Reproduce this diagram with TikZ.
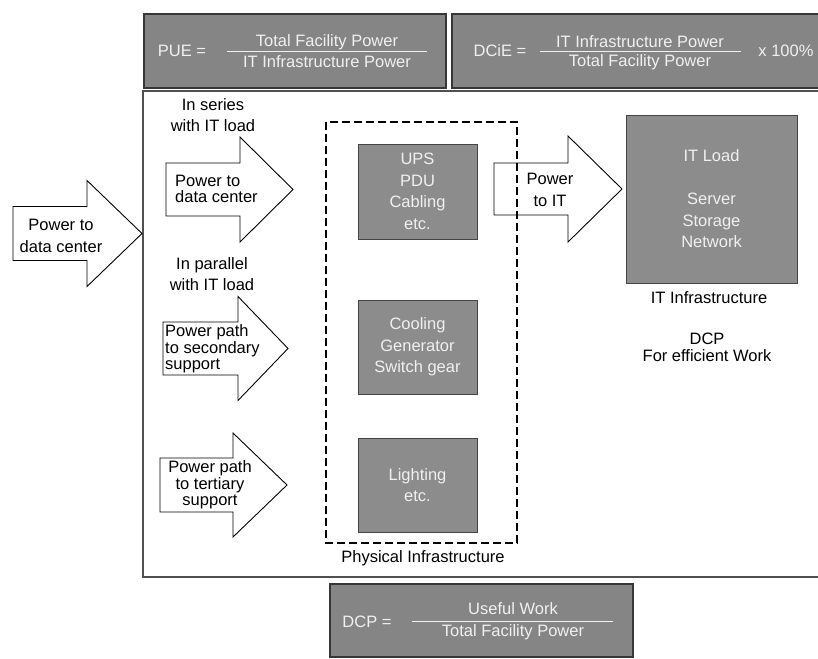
\documentclass[tikz,border=0pt]{standalone}
\usepackage{fontspec}
\setmainfont{Liberation Sans}
\definecolor{boxgray}{HTML}{8C8C8C}
\definecolor{boxedge}{HTML}{454545}
\definecolor{boxtext}{HTML}{F0F0F0}
\definecolor{frameline}{HTML}{505050}
\newcommand\blockarrow[6]{% x1, x2, x3, yc, half shaft, half head
  \draw[arrowshape] (#1,#4-#5) -- (#2,#4-#5) -- (#2,#4-#6) -- (#3,#4) -- (#2,#4+#6) -- (#2,#4+#5) -- (#1,#4+#5) -- cycle;}
\tikzset{
  arrowshape/.style={draw=black, fill=white, line width=0.9pt, line join=miter},
  txt/.style={font=\fontsize{16.5}{21.5}\selectfont, inner sep=0pt, align=center},
  tighttxt/.style={font=\fontsize{16.5}{16.5}\selectfont, inner sep=0pt},
  graybox/.style={draw=boxedge, fill=boxgray, line width=1pt, inner sep=0pt, text=boxtext},
  formbox/.style={draw=boxedge!80!black, fill=boxgray!95!black, line width=1.4pt},
  wtxt/.style={txt, text=boxtext},
  fracline/.style={draw=boxtext, line width=0.9pt},
  mainframe/.style={draw=frameline, line width=1.3pt},
  physbox/.style={draw=black, line width=2.2pt, dash pattern=on 8pt off 4pt}
}
\begin{document}
\begin{tikzpicture}[x=1pt,y=-1pt]
\useasboundingbox (0,0) rectangle (818,658);
\clip (0,0) rectangle (818,658);
\fill[white] (0,0) rectangle (818,658);

% formula boxes on top
\path[formbox] (144,14) rectangle (446,88);
\path[formbox] (452,14) rectangle (824,88);
\node[wtxt] (pue) at (182,51) {PUE =};
\node[wtxt] (puenum) at (327,42) {Total Facility Power};
\node[wtxt] (pueden) at (327,62) {IT Infrastructure Power};
\coordinate (puel) at (227,51);
\coordinate (puer) at (427,51);
\draw[fracline] (puel) -- (puer);
\node[wtxt] (dcie) at (500,51) {DCiE =};
\node[wtxt] (dcienum) at (640,42) {IT Infrastructure Power};
\node[wtxt] (dcieden) at (640,62) {Total Facility Power};
\coordinate (dciel) at (540,51);
\coordinate (dcier) at (741,51);
\draw[fracline] (dciel) -- (dcier);
\node[wtxt] (hundred) at (786,51) {x 100\%};

% main frame
\path[mainframe] (143,91) rectangle (824,577);

% left arrow
\blockarrow{13}{87}{142}{233.5}{27}{53}
\node[txt] (pdc) at (61,236) {Power to\\data center};

% series
\node[txt] (series) at (213,115) {In series\\with IT load};
\blockarrow{166}{240}{293}{189.5}{26.5}{52.5}
\node[tighttxt, align=left, anchor=west] (pdc2) at (175,189) {Power to\\data center};

% parallel
\node[txt] (parallel) at (212,274) {In parallel\\with IT load};
\blockarrow{163}{238}{288}{348.5}{26.5}{52}
\node[tighttxt, align=left, anchor=west] (sec) at (165,349) {Power path\\to secondary\\support};

% tertiary
\blockarrow{160}{233}{287}{485}{27}{52}
\node[tighttxt, align=center] (ter) at (210,485) {Power path\\to tertiary\\support};

% power to IT arrow
\blockarrow{494}{568}{622}{189}{26}{53}
\node[txt] (pit) at (550,190) {Power\\to IT};

% physical infrastructure dashed frame
\draw[physbox] (326,122) rectangle (517,543);
\node[txt] (phys) at (423,558) {Physical Infrastructure};

% gray boxes
\node[graybox, minimum width=119pt, minimum height=95pt] (ups) at (417.5,191.5) {};
\node[wtxt] (upstxt) at (ups.center) {UPS\\PDU\\Cabling\\etc.};
\node[graybox, minimum width=119pt, minimum height=94pt] (cool) at (417.5,347) {};
\node[wtxt] (cooltxt) at (cool.center) {Cooling\\Generator\\Switch gear};
\node[graybox, minimum width=119pt, minimum height=94pt] (light) at (417.5,485) {};
\node[wtxt] (lighttxt) at (light.center) {Lighting\\etc.};

% IT load box
\node[graybox, minimum width=171pt, minimum height=168pt] (itload) at (711.5,199) {};
\node[wtxt] (ittxt) at (itload.center) {IT Load\\[21.5pt]Server\\Storage\\Network};
\node[txt] (itinfra) at (709,298) {IT Infrastructure};
\node[font=\fontsize{16.5}{17}\selectfont, inner sep=0pt, align=center] (dcpw) at (707,347) {DCP\\For efficient Work};

% bottom DCP box
\path[formbox] (330,584) rectangle (633,657);
\node[wtxt] (dcp) at (367,622) {DCP =};
\node[wtxt] (dcpnum) at (513,609) {Useful Work};
\node[wtxt] (dcpden) at (513,632) {Total Facility Power};
\coordinate (dcpl) at (412,621);
\coordinate (dcpr) at (613,621);
\draw[fracline] (dcpl) -- (dcpr);
\end{tikzpicture}
\end{document}
